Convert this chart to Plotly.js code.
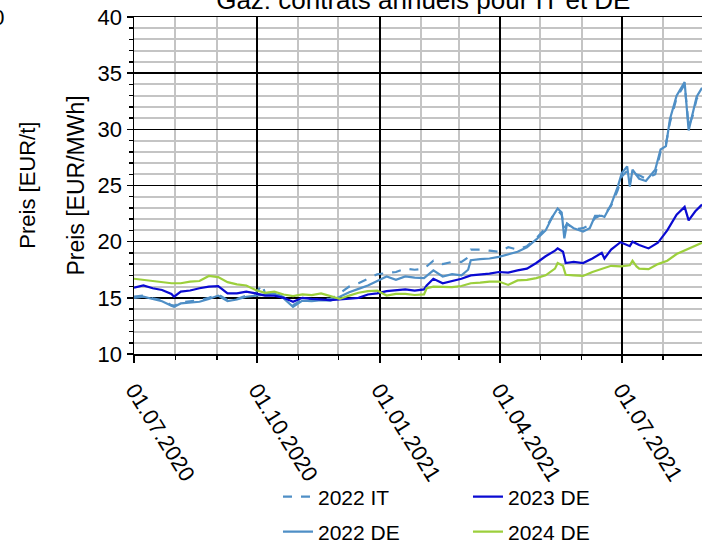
<!DOCTYPE html>
<html>
<head>
<meta charset="utf-8">
<script src="https://cdn.plot.ly/plotly-3.0.1.min.js"></script>
<style>html,body{margin:0;padding:0;background:#fff;}#chart{width:702px;height:547px;}</style>
</head>
<body>
<div id="chart"></div>
<script>
// ---- data ----
const titleText = "Gaz: contrats annuels pour IT et DE";
const yTitle = "Preis [EUR/MWh]";
const y2Title = "Preis [EUR/t]";
const names = ["2022 IT", "2022 DE", "2023 DE", "2024 DE"];

const datesIT = ["2020-07-01","2020-07-08","2020-07-15","2020-07-22","2020-07-29","2020-07-31","2020-08-05","2020-08-12","2020-08-19","2020-08-26","2020-09-02","2020-09-09","2020-09-16","2020-09-23","2020-09-30","2020-10-05","2020-10-07","2020-10-14","2020-10-21","2020-10-28","2020-11-04","2020-11-11","2020-11-18","2020-11-25","2020-12-02","2020-12-09","2020-12-16","2020-12-23","2020-12-30","2021-01-06","2021-01-13","2021-01-20","2021-01-27","2021-02-03","2021-02-10","2021-02-17","2021-02-24","2021-03-03","2021-03-08","2021-03-10","2021-03-17","2021-03-24","2021-03-31","2021-04-07","2021-04-14","2021-04-21","2021-04-28","2021-05-05","2021-05-10","2021-05-14","2021-05-17","2021-05-19","2021-05-21","2021-05-26","2021-06-02","2021-06-07","2021-06-11","2021-06-16","2021-06-18","2021-06-23","2021-06-28","2021-07-01","2021-07-05","2021-07-07","2021-07-09","2021-07-14","2021-07-19","2021-07-26","2021-07-30","2021-08-03","2021-08-06","2021-08-11","2021-08-17","2021-08-20","2021-08-23","2021-08-26","2021-08-30"];
const valsIT = [15.1,15.2,14.95,14.8,14.35,14.3,14.6,14.7,14.8,15.0,15.3,14.8,14.9,15.2,15.4,16.2,15.4,15.5,15.05,14.35,14.85,14.8,14.95,14.9,15.4,16.0,16.3,16.7,17.1,17.2,17.3,17.6,17.5,17.6,18.3,18.0,18.2,18.2,18.6,19.3,19.3,19.2,19.1,19.5,19.3,19.6,20.3,21.2,22.2,22.8,22.4,21.2,21.6,21.1,21.2,21.5,22.1,22.4,22.4,23.2,24.6,25.8,26.3,25.2,26.1,25.9,25.6,26.0,28.0,28.7,30.6,32.8,34.0,30.3,31.2,32.7,33.5];

const dates22 = ["2020-07-01","2020-07-08","2020-07-15","2020-07-22","2020-07-29","2020-07-31","2020-08-05","2020-08-12","2020-08-19","2020-08-26","2020-09-02","2020-09-09","2020-09-16","2020-09-23","2020-09-30","2020-10-07","2020-10-14","2020-10-21","2020-10-28","2020-11-04","2020-11-11","2020-11-18","2020-11-25","2020-12-02","2020-12-09","2020-12-16","2020-12-23","2020-12-30","2021-01-06","2021-01-13","2021-01-20","2021-01-27","2021-02-03","2021-02-10","2021-02-17","2021-02-24","2021-03-03","2021-03-08","2021-03-10","2021-03-17","2021-03-24","2021-03-31","2021-04-07","2021-04-14","2021-04-21","2021-04-28","2021-05-05","2021-05-10","2021-05-14","2021-05-17","2021-05-19","2021-05-21","2021-05-26","2021-06-02","2021-06-07","2021-06-11","2021-06-16","2021-06-18","2021-06-23","2021-06-28","2021-07-01","2021-07-05","2021-07-07","2021-07-09","2021-07-14","2021-07-19","2021-07-26","2021-07-30","2021-08-03","2021-08-06","2021-08-11","2021-08-17","2021-08-20","2021-08-23","2021-08-26","2021-08-30"];
const vals22 = [15.0,15.1,14.9,14.7,14.3,14.2,14.5,14.6,14.65,14.9,15.2,14.7,14.85,15.1,15.2,15.25,15.4,14.95,14.2,14.75,14.7,14.8,14.75,15.1,15.5,15.8,16.1,16.5,16.9,16.6,16.9,16.8,16.75,17.45,16.9,17.1,17.0,17.5,18.35,18.45,18.5,18.65,18.9,19.1,19.5,20.2,21.0,22.2,22.95,22.6,20.3,21.6,21.2,20.9,21.2,22.3,22.3,22.2,23.3,24.9,26.1,26.7,24.9,26.4,25.6,25.4,26.4,28.2,28.5,30.9,33.0,34.2,29.9,31.4,32.9,33.7];

const dates23 = ["2020-07-01","2020-07-08","2020-07-15","2020-07-22","2020-07-29","2020-07-31","2020-08-05","2020-08-12","2020-08-19","2020-08-26","2020-09-02","2020-09-09","2020-09-16","2020-09-23","2020-09-30","2020-10-07","2020-10-14","2020-10-21","2020-10-28","2020-11-04","2020-11-11","2020-11-18","2020-11-25","2020-12-02","2020-12-09","2020-12-16","2020-12-23","2020-12-30","2021-01-06","2021-01-13","2021-01-20","2021-01-27","2021-02-03","2021-02-05","2021-02-10","2021-02-17","2021-02-24","2021-03-03","2021-03-10","2021-03-17","2021-03-24","2021-03-31","2021-04-07","2021-04-14","2021-04-21","2021-04-28","2021-05-05","2021-05-12","2021-05-14","2021-05-18","2021-05-20","2021-05-26","2021-06-02","2021-06-09","2021-06-16","2021-06-18","2021-06-23","2021-06-30","2021-07-07","2021-07-09","2021-07-14","2021-07-21","2021-07-28","2021-08-04","2021-08-11","2021-08-17","2021-08-20","2021-08-25","2021-08-30"];
const vals23 = [15.9,16.1,15.85,15.7,15.35,15.1,15.55,15.65,15.85,16.0,16.05,15.4,15.4,15.55,15.4,15.2,15.2,15.0,14.65,15.0,14.9,14.85,14.8,14.85,14.9,15.0,15.3,15.4,15.6,15.7,15.75,15.65,15.75,16.1,16.7,16.3,16.5,16.7,17.0,17.05,17.15,17.3,17.25,17.45,17.6,18.1,18.7,19.2,19.4,19.1,18.1,18.2,18.1,18.5,19.0,18.5,19.3,19.95,19.6,20.0,19.7,19.4,19.9,21.0,22.4,23.1,21.9,22.7,23.3];

const dates24 = ["2020-07-01","2020-07-08","2020-07-15","2020-07-22","2020-07-29","2020-08-05","2020-08-12","2020-08-19","2020-08-26","2020-09-02","2020-09-09","2020-09-16","2020-09-23","2020-09-30","2020-10-07","2020-10-14","2020-10-21","2020-10-28","2020-11-04","2020-11-11","2020-11-18","2020-11-25","2020-12-02","2020-12-09","2020-12-16","2020-12-23","2020-12-30","2021-01-06","2021-01-13","2021-01-20","2021-01-27","2021-02-03","2021-02-05","2021-02-10","2021-02-17","2021-02-24","2021-03-03","2021-03-10","2021-03-17","2021-03-24","2021-03-31","2021-04-07","2021-04-14","2021-04-21","2021-04-28","2021-05-05","2021-05-12","2021-05-14","2021-05-18","2021-05-20","2021-05-26","2021-06-02","2021-06-09","2021-06-16","2021-06-23","2021-06-30","2021-07-07","2021-07-09","2021-07-12","2021-07-14","2021-07-21","2021-07-28","2021-08-04","2021-08-11","2021-08-18","2021-08-25","2021-08-30"];
const vals24 = [16.7,16.6,16.45,16.4,16.3,16.3,16.45,16.5,16.95,16.85,16.4,16.2,16.1,15.7,15.45,15.55,15.3,15.15,15.3,15.25,15.4,15.15,14.9,15.2,15.45,15.6,15.65,15.2,15.35,15.35,15.25,15.3,15.85,16.0,16.0,15.95,16.05,16.3,16.35,16.45,16.45,16.15,16.55,16.6,16.75,17.0,17.6,18.1,17.85,17.05,17.0,16.95,17.3,17.55,17.85,17.8,17.9,18.3,17.8,17.6,17.55,18.0,18.3,18.9,19.25,19.6,19.9];

// ---- styling ----
const FONT = "Liberation Sans, Arial, sans-serif";
const C22 = "#4f8fc6", C23 = "#0a0ad2", C24 = "#9ccf3c";

const traces = [
  {x: datesIT, y: valsIT, name: names[0], mode: "lines", line: {color: C22, width: 2.2, dash: "dash"}, legend: "legend"},
  {x: dates22, y: vals22, name: names[1], mode: "lines", line: {color: C22, width: 2.2}, legend: "legend3"},
  {x: dates23, y: vals23, name: names[2], mode: "lines", line: {color: C23, width: 2.2}, legend: "legend2"},
  {x: dates24, y: vals24, name: names[3], mode: "lines", line: {color: C24, width: 2.2}, legend: "legend4"}
];

function leg(x, y) {
  return {orientation: "v", xref: "paper", yref: "paper", x: x, y: y, xanchor: "left", yanchor: "middle",
    font: {family: FONT, size: 21, color: "#000"}, bgcolor: "rgba(0,0,0,0)", borderwidth: 0};
}
const col1 = 0.2535, col2 = 0.588, row1 = -0.4243, row2 = -0.528;

const layout = {
  width: 702, height: 547,
  margin: {l: 134, r: 0, t: 17, b: 193, autoexpand: false},
  paper_bgcolor: "#fff", plot_bgcolor: "#fff",
  font: {family: FONT, size: 22, color: "#000"},
  title: {text: titleText, font: {family: FONT, size: 26, color: "#000"}, xref: "container", yref: "container", x: 0.603, xanchor: "center", y: 1.0, yanchor: "middle"},
  showlegend: true,
  legend: leg(col1, row1),
  legend2: leg(col2, row1),
  legend3: leg(col1, row2),
  legend4: leg(col2, row2),
  xaxis: {
    type: "date", range: ["2020-07-01", "2021-08-30"],
    tick0: "2020-07-01", dtick: "M3", tickformat: "%d.%m.%Y", tickangle: 58,
    showgrid: true, gridcolor: "#000", gridwidth: 1.5,
    ticks: "outside", ticklen: 7, tickwidth: 1.5, tickcolor: "#000", ticklabelstandoff: 6,
    showline: true, linecolor: "#000", linewidth: 1.5, mirror: true,
    tickfont: {family: FONT, size: 22, color: "#000"},
    minor: {dtick: "M1", tick0: "2020-07-01", showgrid: true, gridcolor: "#c4c4c4", gridwidth: 2, ticks: "outside", ticklen: 4, tickcolor: "#000"},
    zeroline: false, fixedrange: true, automargin: false
  },
  yaxis: {
    range: [10, 40], dtick: 5, tick0: 10,
    showgrid: true, gridcolor: "#000", gridwidth: 1.5,
    ticks: "outside", ticklen: 6, tickwidth: 1.5, tickcolor: "#000",
    showline: true, linecolor: "#000", linewidth: 1.5, mirror: true,
    tickfont: {family: FONT, size: 22, color: "#000"},
    minor: {dtick: 1, showgrid: true, gridcolor: "#c4c4c4", gridwidth: 2, ticks: "outside", ticklen: 4, tickcolor: "#000"},
    zeroline: false, fixedrange: true, automargin: false,
    title: {text: yTitle, font: {family: FONT, size: 23, color: "#000"}, standoff: 6}
  },
  annotations: [
    {text: y2Title, xref: "paper", yref: "paper", x: -0.188, y: 0.5, xanchor: "center", yanchor: "middle", textangle: -90, showarrow: false, font: {family: FONT, size: 22, color: "#000"}},
    {text: "50", xref: "paper", yref: "paper", x: -0.226, y: 1.0, xanchor: "right", yanchor: "middle", showarrow: false, font: {family: FONT, size: 22, color: "#000"}}
  ]
};

Plotly.newPlot("chart", traces, layout, {staticPlot: true, displayModeBar: false});
</script>
</body>
</html>
